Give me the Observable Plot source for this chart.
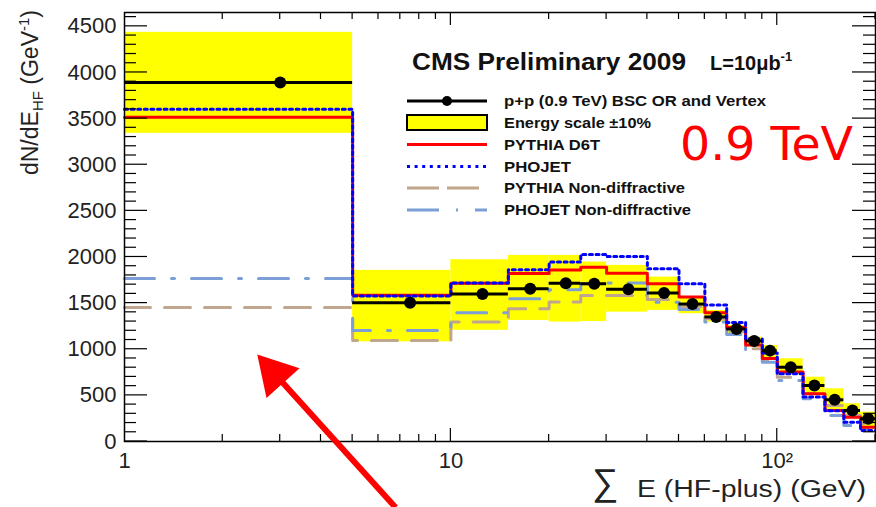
<!DOCTYPE html>
<html><head><meta charset="utf-8">
<script src="https://cdn.jsdelivr.net/npm/d3@7"></script>
<script src="https://cdn.jsdelivr.net/npm/@observablehq/plot@0.6"></script>
<style>html,body{margin:0;padding:0;background:#fff} svg{display:block}</style>
</head><body><div id="chart"></div>
<script>
// ---- data ----
const binEdges   = [1,5,10,15,20,25,30,40,50,60,70,80,90,100,120,140,160,180,200];
const dataValues = [3890,1505,1600,1655,1715,1710,1650,1610,1490,1350,1220,1090,985,805,607,452,336,246];
const bandLow    = [3340,1080,1205,1312,1294,1300,1402,1421,1385,1294,1171,1023,897,734,517,329,264,160];
const bandHigh   = [4435,1855,1970,2017,2017,1945,1909,1782,1570,1420,1258,1131,1041,897,697,571,409,318];
const pythiaD6T  = [3515,1585,1715,1820,1860,1890,1825,1710,1565,1395,1235,1045,900,752,517,336,264,155];
const phojet     = [3600,1578,1717,1862,1945,2028,2006,1873,1710,1480,1290,1114,958,734,481,333,209,119];
const pythiaND   = [1453,1095,1294,1439,1511,1583,1583,1540,1460,1330,1190,1005,880,697,517,390,282,195];
const phojetND   = [1768,1204,1396,1548,1645,1710,1717,1510,1430,1294,1160,987,860,662,463,282,174,141];

const yMajorTicks = [0,500,1000,1500,2000,2500,3000,3500,4000,4500];
const yMinorTicks = d3.range(100,4700,100).filter(v => v % 500 !== 0);
const xLabelTicks = [1,10,100];
const xMajorTicks = [10,100];
const xMinorTicks = [2,3,4,5,6,7,8,9,20,30,40,50,60,70,80,90,200];

// annotation arrow (data coordinates)
const arrowShaft = [{x1: 6.77, y1: -715, x2: 3.05, y2: 639}];
const arrowHead  = [{x: 2.88, y: 737}];

// ---- build tables ----
const bins = binEdges.slice(0,-1).map((lo,i) => ({
  lo, hi: binEdges[i+1], mid: (lo + binEdges[i+1]) / 2,
  data: dataValues[i], low: bandLow[i], high: bandHigh[i]
}));
function stepPoints(values){
  const pts = values.map((v,i) => ({x: binEdges[i], y: v}));
  pts.push({x: binEdges[binEdges.length-1], y: values[values.length-1]});
  return pts;
}

const FONT = "'Liberation Sans', Arial, Helvetica, sans-serif";
const TAN = "#bfa68c", STEEL = "#7b9fd6";

const plot = Plot.plot({
  width: 876, height: 507,
  marginLeft: 124, marginRight: 1, marginTop: 12, marginBottom: 66,
  x: {type: "log", domain: [1, 200]},
  y: {domain: [0, 4650]},
  style: {fontFamily: FONT, background: "#fff", color: "black", overflow: "visible"},
  marks: [
    Plot.rect(bins, {x1: "lo", x2: "hi", y1: "low", y2: "high", fill: "#ffff00"}),
    Plot.line(stepPoints(pythiaND), {x: "x", y: "y", curve: "step-after", stroke: TAN, strokeWidth: 3, strokeDasharray: "26,14"}),
    Plot.line(stepPoints(phojetND), {x: "x", y: "y", curve: "step-after", stroke: STEEL, strokeWidth: 3, strokeDasharray: "30,17,3,17"}),
    Plot.line(stepPoints(pythiaD6T), {x: "x", y: "y", curve: "step-after", stroke: "#ff0000", strokeWidth: 3}),
    Plot.line(stepPoints(phojet), {x: "x", y: "y", curve: "step-after", stroke: "#0000ff", strokeWidth: 3, strokeDasharray: "3,3.6"}),
    Plot.ruleY(bins, {x1: "lo", x2: "hi", y: "data", stroke: "black", strokeWidth: 3}),
    Plot.dot(bins, {x: "mid", y: "data", r: 6, fill: "black"}),
    Plot.frame({stroke: "black", strokeWidth: 1.5}),
    Plot.axisY({anchor: "left", ticks: yMajorTicks, tickSize: 0, tickPadding: 8, fontSize: 22, label: null, fill: "#222",
      tickFormat: d => String(d)}),
    Plot.axisX({anchor: "bottom", ticks: xLabelTicks, tickSize: 0, tickPadding: 11, fontSize: 22, label: null, fill: "#222",
      tickFormat: d => d === 100 ? "10²" : String(d)}),
    // red annotation arrow
    Plot.link(arrowShaft, {x1: "x1", y1: "y1", x2: "x2", y2: "y2", stroke: "#ff0000", strokeWidth: 6}),
    Plot.dot(arrowHead, {x: "x", y: "y", symbol: "triangle", r: 16.5, rotate: -42, fill: "#ff0000", stroke: "none"})
  ]
});
document.getElementById("chart").appendChild(plot);

// ---- inward ticks, placed with the plot's own scales ----
const xs = plot.scale("x"), ys = plot.scale("y");
const [L, R] = xs.range, [B, T] = ys.range;
const tg = d3.select(plot).append("g").attr("stroke", "black").attr("stroke-width", 1.2);
function tickLines(vals, len, axis){
  vals.forEach(v => {
    if (axis === "y") {
      const y = ys.apply(v);
      tg.append("line").attr("x1", L).attr("x2", L + len).attr("y1", y).attr("y2", y);
      tg.append("line").attr("x1", R).attr("x2", R - len).attr("y1", y).attr("y2", y);
    } else {
      const x = xs.apply(v);
      tg.append("line").attr("x1", x).attr("x2", x).attr("y1", B).attr("y2", B - len);
      tg.append("line").attr("x1", x).attr("x2", x).attr("y1", T).attr("y2", T + len);
    }
  });
}
tickLines(yMajorTicks, 23, "y");
tickLines(yMinorTicks, 12, "y");
tickLines(xMajorTicks, 13, "x");
tickLines(xMinorTicks, 7, "x");

// ---- titles, legend and labels ----
const svg = d3.select(plot);
const g = svg.append("g").attr("font-family", FONT).attr("text-anchor", "start");

// y-axis title
const yt = g.append("text").attr("transform", "translate(38,10) rotate(-90)")
  .attr("text-anchor", "end").attr("font-size", 23).attr("fill", "#222");
yt.append("tspan").text("dN/dE");
yt.append("tspan").attr("font-size", 15).attr("dy", 5).text("HF");
yt.append("tspan").attr("dy", -5).text(" (GeV");
yt.append("tspan").attr("font-size", 15).attr("dy", -9).text("-1");
yt.append("tspan").attr("dy", 9).text(")");

// x-axis title
g.append("text").attr("x", 592).attr("y", 495).attr("font-size", 37).attr("fill", "#222").text("∑");
g.append("text").attr("x", 866).attr("y", 497).attr("text-anchor", "end").attr("font-size", 23)
  .attr("fill", "#222").attr("textLength", 229).attr("lengthAdjust", "spacingAndGlyphs").text("E (HF-plus) (GeV)");

// legend header
g.append("text").attr("x", 412).attr("y", 70).attr("font-size", 23).attr("font-weight", "bold").attr("fill", "#111")
  .attr("textLength", 274).attr("lengthAdjust", "spacingAndGlyphs").text("CMS Preliminary 2009");
const lt = g.append("text").attr("x", 710).attr("y", 70).attr("font-size", 20).attr("font-weight", "bold").attr("fill", "#111");
lt.append("tspan").text("L=10μb");
lt.append("tspan").attr("font-size", 13).attr("dy", -9).text("-1");

// legend entries
const legendRows = [
  {label: "p+p (0.9 TeV) BSC OR and Vertex", y: 101, kind: "data"},
  {label: "Energy scale ±10%", y: 122.5, kind: "band"},
  {label: "PYTHIA D6T", y: 144.5, kind: "line", stroke: "#ff0000"},
  {label: "PHOJET", y: 166.5, kind: "line", stroke: "#0000ff", dash: "3,4.6"},
  {label: "PYTHIA Non-diffractive", y: 188, kind: "line", stroke: TAN, dash: "32,8"},
  {label: "PHOJET Non-diffractive", y: 210, kind: "line", stroke: STEEL, dash: "32,17,2,17"}
];
const legendWidths = [262, 147, 96, 67, 181, 187];
legendRows.forEach((r, i) => {
  if (r.kind === "data") {
    g.append("line").attr("x1", 407).attr("x2", 487).attr("y1", r.y).attr("y2", r.y).attr("stroke", "black").attr("stroke-width", 3);
    g.append("circle").attr("cx", 447).attr("cy", r.y).attr("r", 5).attr("fill", "black");
  } else if (r.kind === "band") {
    g.append("rect").attr("x", 407).attr("y", r.y - 7.5).attr("width", 80).attr("height", 15)
      .attr("fill", "#ffff00").attr("stroke", "black").attr("stroke-width", 2);
  } else {
    g.append("line").attr("x1", 407).attr("x2", 487).attr("y1", r.y).attr("y2", r.y)
      .attr("stroke", r.stroke).attr("stroke-width", 3).attr("stroke-dasharray", r.dash || null);
  }
  g.append("text").attr("x", 504).attr("y", r.y + 5).attr("font-size", 14.5).attr("font-weight", "bold").attr("fill", "#111")
    .attr("textLength", legendWidths[i]).attr("lengthAdjust", "spacingAndGlyphs").text(r.label);
});

// red energy annotation
g.append("text").attr("x", 680).attr("y", 160).attr("font-size", 46).attr("font-family", "'DejaVu Sans', sans-serif")
  .attr("fill", "#ff0000").attr("textLength", 173).attr("lengthAdjust", "spacingAndGlyphs").text("0.9 TeV");
</script>
</body></html>
